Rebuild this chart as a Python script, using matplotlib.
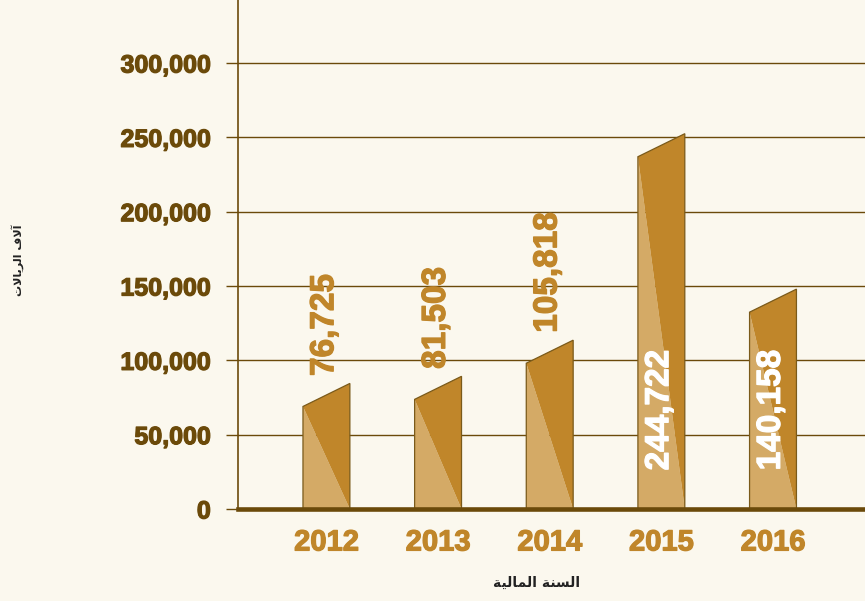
import matplotlib
matplotlib.use("Agg")
import matplotlib.pyplot as plt
import matplotlib.patheffects as pe
from matplotlib.patches import Polygon
from matplotlib.ticker import FuncFormatter

years = ["2012", "2013", "2014", "2015", "2016"]
values = [76725, 81503, 105818, 244722, 140158]
yticks = [0, 50000, 100000, 150000, 200000, 250000, 300000]

# labels that sit inside the bar (tall bars) instead of above it
inside = [False, False, False, True, True]

# arabic captions written in presentation forms, visual order
xlabel_ar = "\uFE8D\uFEDF\uFEB4\uFEE8\uFE94 \uFE8D\uFEDF\uFEE4\uFE8E\uFEDF\uFEF4\uFE94"[::-1]
ylabel_ar = "\uFE81\uFEFB\uFED1 \uFE8D\uFEDF\uFEAE\uFEF3\uFE8E\uFEFB\uFE95"[::-1]

bg = "#FBF8EE"
brown = "#6B4A0A"
gold = "#C0862A"
light = "#D4AA66"
num_font = ["Liberation Sans", "DejaVu Sans"]


def heavy(color):
    # thin outline in the text colour to make the bold face look blacker
    return [pe.withStroke(linewidth=0.9, foreground=color)]


fig = plt.figure(figsize=(8.65, 6.01), dpi=100, facecolor=bg)
ax = fig.add_axes([238 / 865, 92 / 601, 627 / 865, 509 / 601])
ax.set_facecolor(bg)

w = 0.42
slant = 15500
for i, v in enumerate(values):
    xl, xr = i - w / 2, i + w / 2
    lo, hi = v - slant / 2, v + slant / 2
    ax.add_patch(Polygon([(xl, 0), (xl, lo), (xr, 0)], closed=True,
                         facecolor=light, edgecolor="none", zorder=3))
    ax.add_patch(Polygon([(xl, lo), (xr, hi), (xr, 0)], closed=True,
                         facecolor=gold, edgecolor="none", zorder=3))
    ax.add_patch(Polygon([(xl, 0), (xl, lo), (xr, hi), (xr, 0)], closed=True,
                         facecolor="none", edgecolor="#7A5A1A", lw=0.9, zorder=4))
    txt = f"{v:,}"
    if inside[i]:
        ax.text(i - 0.015, 26000, txt, rotation=90, ha="center", va="bottom",
                color="white", fontsize=24, fontweight="bold",
                family=num_font, zorder=5, path_effects=heavy("white"))
    else:
        ax.text(i - 0.015, hi + 5000, txt, rotation=90, ha="center", va="bottom",
                color=gold, fontsize=24, fontweight="bold",
                family=num_font, zorder=5, path_effects=heavy(gold))

ax.set_xlim(-0.792, 4.824)
ax.set_ylim(0, 342400)
ax.set_xticks(range(len(years)))
ax.set_xticklabels(years)
ax.set_yticks(yticks)
ax.yaxis.set_major_formatter(FuncFormatter(lambda y, p: f"{int(y):,}"))

ax.grid(axis="y", color=brown, lw=1, zorder=1)
ax.tick_params(axis="y", length=8.6, width=1, color=brown, pad=11,
               labelsize=18, labelcolor=brown)
ax.tick_params(axis="x", length=0, pad=14, labelsize=21, labelcolor=gold)
for lab in ax.get_yticklabels():
    lab.set_family(num_font)
    lab.set_fontweight("bold")
    lab.set_path_effects(heavy(brown))
for lab in ax.get_xticklabels():
    lab.set_family(num_font)
    lab.set_fontweight("bold")
    lab.set_path_effects(heavy(gold))

for s in ["top", "right"]:
    ax.spines[s].set_visible(False)
ax.spines["left"].set_color(brown)
ax.spines["left"].set_linewidth(1.2)
ax.spines["bottom"].set_color(brown)
ax.spines["bottom"].set_linewidth(3.3)
ax.spines["bottom"].set_zorder(6)

fig.text(537 / 865, 1 - 583 / 601, xlabel_ar, ha="center", va="center",
         fontsize=10, fontweight="bold", color="#222222", family="DejaVu Sans")
fig.text(18 / 865, 1 - 260 / 601, ylabel_ar, ha="center", va="center",
         rotation=90, fontsize=8, fontweight="bold", color="#222222",
         family="DejaVu Sans")

fig.savefig("out.png", dpi=100, facecolor=bg)
